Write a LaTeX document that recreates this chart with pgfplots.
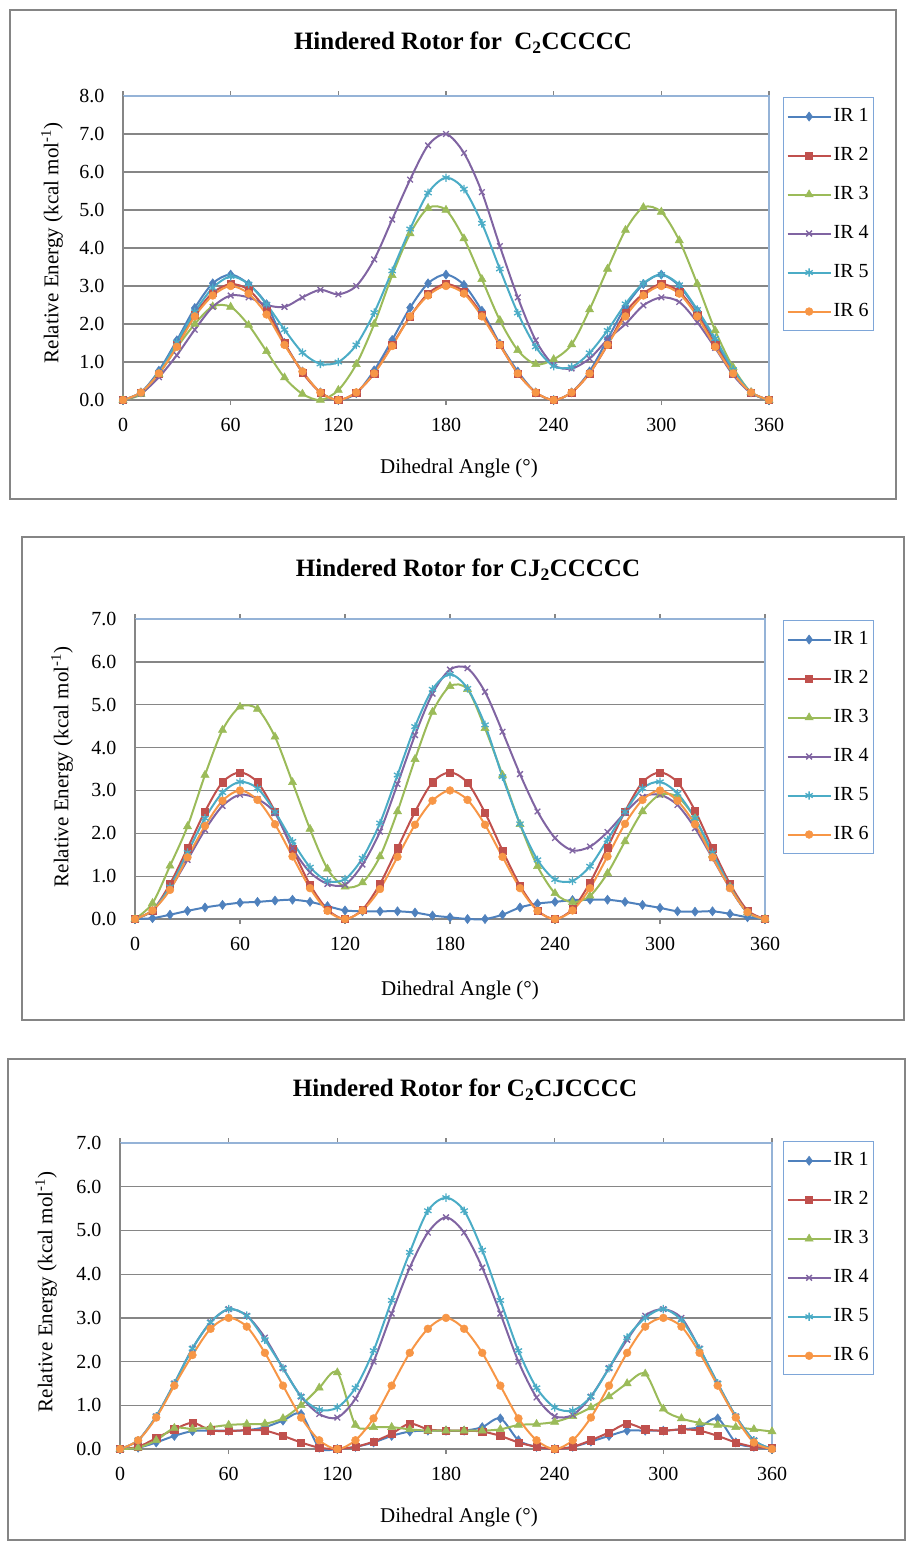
\documentclass[border=0pt]{standalone}
\usepackage{fontspec}
\setmainfont{Liberation Serif}
\usepackage{pgfplots}
\usepackage{pgfplotstable}
\pgfplotsset{compat=1.18}

\definecolor{c1}{HTML}{4F81BD}
\definecolor{c2}{HTML}{C0504D}
\definecolor{c3}{HTML}{9BBB59}
\definecolor{c4}{HTML}{8064A2}
\definecolor{c5}{HTML}{4BACC6}
\definecolor{c6}{HTML}{F79646}
\definecolor{gridc}{HTML}{868686}
\definecolor{frameblue}{HTML}{95B3D7}
\definecolor{legblue}{HTML}{7EA6D8}
\definecolor{outerc}{HTML}{858585}

\pgfplotstableread{
a r1 r2 r3 r4 r5 r6
0 0 0 0 0 0 0
10 0.20 0.20 0.15 0.17 0.20 0.20
20 0.77 0.70 0.68 0.60 0.72 0.70
30 1.57 1.45 1.38 1.18 1.52 1.40
40 2.42 2.25 2.00 1.85 2.32 2.20
50 3.07 2.82 2.46 2.45 2.95 2.75
60 3.30 3.05 2.45 2.75 3.25 3.00
70 3.05 2.90 1.97 2.70 3.05 2.80
80 2.52 2.35 1.28 2.50 2.52 2.25
90 1.50 1.50 0.59 2.45 1.85 1.45
100 0.75 0.72 0.16 2.70 1.25 0.75
110 0.20 0.20 0.00 2.90 0.95 0.20
120 0 0 0.26 2.78 1.00 0
130 0.18 0.20 0.94 3.00 1.45 0.20
140 0.78 0.70 2.00 3.70 2.30 0.70
150 1.58 1.45 3.28 4.75 3.40 1.42
160 2.43 2.20 4.38 5.80 4.50 2.20
170 3.07 2.80 5.05 6.70 5.45 2.75
180 3.30 3.05 5.00 7.00 5.85 3.00
190 3.03 2.85 4.25 6.50 5.55 2.80
200 2.35 2.25 3.18 5.47 4.65 2.20
210 1.48 1.45 2.10 4.05 3.45 1.45
220 0.75 0.70 1.31 2.70 2.29 0.70
230 0.20 0.20 0.94 1.57 1.40 0.20
240 0 0 1.07 0.92 0.89 0
250 0.20 0.20 1.46 0.83 0.87 0.20
260 0.75 0.70 2.38 1.09 1.24 0.70
270 1.60 1.45 3.45 1.59 1.83 1.45
280 2.45 2.30 4.47 2.00 2.53 2.20
290 3.05 2.80 5.07 2.49 3.07 2.75
300 3.30 3.05 4.95 2.70 3.30 3.00
310 3.00 2.85 4.20 2.58 3.03 2.80
320 2.35 2.25 3.06 2.05 2.38 2.20
330 1.55 1.45 1.83 1.37 1.62 1.40
340 0.75 0.70 0.86 0.66 0.80 0.70
350 0.20 0.20 0.20 0.18 0.20 0.20
360 0 0 0 0 0 0
}\tA

\pgfplotstableread{
a r1 r2 r3 r4 r5 r6
0 0 0 0 0 0 0
10 0.02 0.20 0.37 0.20 0.20 0.20
20 0.10 0.82 1.24 0.70 0.75 0.68
30 0.19 1.65 2.16 1.38 1.55 1.44
40 0.27 2.51 3.36 2.08 2.35 2.17
50 0.33 3.19 4.41 2.64 2.95 2.76
60 0.38 3.42 4.95 2.90 3.20 3.00
70 0.40 3.19 4.90 2.80 3.05 2.78
80 0.43 2.51 4.25 2.47 2.50 2.21
90 0.45 1.64 3.19 1.65 1.81 1.46
100 0.40 0.80 2.10 1.09 1.21 0.72
110 0.30 0.22 1.17 0.82 0.89 0.19
120 0.20 0 0.75 0.80 0.93 0
130 0.18 0.22 0.85 1.27 1.42 0.20
140 0.18 0.82 1.46 2.04 2.24 0.70
150 0.18 1.65 2.51 3.15 3.36 1.45
160 0.15 2.50 3.73 4.29 4.49 2.20
170 0.08 3.19 4.83 5.26 5.36 2.76
180 0.04 3.42 5.43 5.82 5.71 3.00
190 0.00 3.18 5.36 5.85 5.38 2.78
200 0.00 2.48 4.45 5.30 4.53 2.20
210 0.10 1.60 3.36 4.37 3.32 1.45
220 0.27 0.78 2.21 3.38 2.22 0.72
230 0.36 0.20 1.23 2.51 1.38 0.19
240 0.40 0 0.60 1.89 0.92 0
250 0.44 0.23 0.39 1.60 0.89 0.20
260 0.45 0.85 0.54 1.69 1.23 0.72
270 0.45 1.67 1.07 2.03 1.85 1.46
280 0.40 2.51 1.81 2.48 2.50 2.22
290 0.33 3.19 2.51 2.85 3.05 2.78
300 0.26 3.42 2.90 2.90 3.20 3.00
310 0.18 3.19 2.85 2.66 2.93 2.76
320 0.17 2.53 2.35 2.12 2.35 2.21
330 0.18 1.65 1.50 1.42 1.55 1.44
340 0.12 0.82 0.75 0.72 0.75 0.72
350 0.04 0.20 0.15 0.15 0.15 0.16
360 0 0 0 0 0 0
}\tB

\pgfplotstableread{
a r1 r2 r3 r4 r5 r6
0 0 0 0 0 0 0
10 0.03 0.05 0.03 0.20 0.20 0.20
20 0.15 0.25 0.20 0.75 0.75 0.72
30 0.30 0.45 0.48 1.50 1.50 1.45
40 0.41 0.60 0.46 2.30 2.30 2.15
50 0.42 0.43 0.50 2.90 2.90 2.75
60 0.42 0.41 0.55 3.20 3.20 3.00
70 0.43 0.43 0.57 3.05 3.05 2.80
80 0.50 0.42 0.58 2.55 2.50 2.20
90 0.65 0.30 0.70 1.85 1.85 1.45
100 0.80 0.15 1.00 1.20 1.20 0.72
110 0.03 0.03 1.40 0.80 0.90 0.20
120 0 0 1.75 0.72 0.95 0
130 0.05 0.05 0.55 1.15 1.40 0.20
140 0.15 0.17 0.50 2.00 2.25 0.70
150 0.30 0.35 0.50 3.10 3.40 1.45
160 0.40 0.58 0.45 4.15 4.50 2.20
170 0.42 0.45 0.42 4.95 5.45 2.75
180 0.42 0.42 0.42 5.30 5.75 3.00
190 0.42 0.42 0.42 4.95 5.45 2.75
200 0.50 0.40 0.42 4.15 4.55 2.20
210 0.70 0.30 0.45 3.10 3.40 1.45
220 0.20 0.15 0.55 2.00 2.25 0.70
230 0.05 0.05 0.57 1.18 1.40 0.20
240 0 0 0.62 0.75 0.95 0
250 0.05 0.05 0.75 0.78 0.88 0.20
260 0.17 0.20 0.95 1.20 1.20 0.72
270 0.30 0.38 1.20 1.85 1.85 1.45
280 0.42 0.58 1.50 2.50 2.55 2.20
290 0.42 0.45 1.72 3.05 3.00 2.80
300 0.42 0.42 0.92 3.20 3.20 3.00
310 0.45 0.45 0.70 3.00 2.95 2.80
320 0.50 0.42 0.60 2.30 2.30 2.20
330 0.70 0.30 0.55 1.50 1.50 1.45
340 0.15 0.15 0.50 0.75 0.75 0.72
350 0.05 0.05 0.45 0.20 0.20 0.15
360 0 0.02 0.40 0 0 0
}\tC

\pgfplotsset{
  hr/.style={
    scale only axis, clip=false,
    xmin=0, xmax=360, ymin=0,
    xtick={0,60,...,360},
    axis line style={draw=none},
    ymajorgrids, grid style={gridc, line width=1.3pt},
    tick align=outside,
    major tick length=5pt,
    xtick style={gridc, line width=1.3pt},
    ytick style={draw=none},
    ticklabel style={font=\fontsize{20}{20}\selectfont},
    /pgf/number format/assume math mode=true,
    yticklabel style={/pgf/number format/.cd, fixed, fixed zerofill, precision=1, /tikz/.cd, xshift=-10pt},
    xticklabel style={yshift=-10pt},
    legend cell align=left,
    legend style={draw=legblue, line width=1.2pt, fill=white,
      font=\fontsize{20}{20}\selectfont, anchor=north west,
      inner xsep=3pt, inner ysep=8pt, row sep=17pt,
      nodes={inner sep=2pt, text height=14pt, text depth=4pt}},
    legend image code/.code={\draw[mark repeat=2,mark phase=2] plot coordinates {(0pt,0pt)(21.5pt,0pt)(43pt,0pt)};},
    every axis plot/.append style={line width=2pt, smooth},
  },
  s1/.style={c1, mark=diamond*, mark size=4.6pt, mark options={solid, fill=c1, line width=0.5pt}},
  s2/.style={c2, mark=square*, mark size=3.6pt, mark options={solid, fill=c2, line width=0.5pt}},
  s3/.style={c3, mark=triangle*, mark size=4.7pt, mark options={solid, fill=c3, line width=0.5pt}},
  s4/.style={c4, mark=x, mark size=4pt, mark options={solid, line width=1.3pt}},
  s5/.style={c5, mark=asterisk, mark size=4.2pt, mark options={solid, line width=1.3pt}},
  s6/.style={c6, mark=*, mark size=3.9pt, mark options={solid, fill=c6, line width=0.5pt}},
}

\newcommand{\frames}{%
  \draw[frameblue, line width=1.3pt] (rel axis cs:0,1) -- (rel axis cs:1,1) -- (rel axis cs:1,0);
  \draw[gridc, line width=1.3pt] (rel axis cs:0,1) -- (rel axis cs:0,0) -- (rel axis cs:1,0);
}
\newcommand{\allplots}[1]{%
  \addplot[s1] table[x=a,y=r1] {#1};
  \addplot[s2] table[x=a,y=r2] {#1};
  \addplot[s3] table[x=a,y=r3] {#1};
  \addplot[s4] table[x=a,y=r4] {#1};
  \addplot[s5] table[x=a,y=r5] {#1};
  \addplot[s6] table[x=a,y=r6] {#1};
  \legend{IR 1,IR 2,IR 3,IR 4,IR 5,IR 6}
}

\begin{document}
\begin{tikzpicture}
\useasboundingbox (0,0) rectangle (906pt,-1542pt);
\tikzset{ttl/.style={font=\bfseries\fontsize{25}{25}\selectfont},
  lab/.style={font=\fontsize{21}{21}\selectfont}}

% ---------- panel 1 ----------
\draw[outerc, line width=2.5pt] (10pt,-10pt) rectangle (896pt,-499pt);
\node[ttl] at (463pt,-43pt) {Hindered Rotor for\ \ C\textsubscript{2}CCCCC};
\begin{axis}[hr, at={(123pt,-400pt)}, anchor=south west, width=646pt, height=304pt,
  ymax=8, ytick={0,1,...,8},
  legend style={at={(rel axis cs:1.0217,0.997)}}]
\frames
\allplots{\tA}
\end{axis}
\node[lab] at (459pt,-468pt) {Dihedral Angle (°)};
\node[lab, rotate=90] at (52pt,-243pt) {Relative Energy (kcal mol\textsuperscript{-1})};

% ---------- panel 2 ----------
\draw[outerc, line width=2.5pt] (22pt,-537pt) rectangle (904pt,-1020pt);
\node[ttl] at (468pt,-570pt) {Hindered Rotor for CJ\textsubscript{2}CCCCC};
\begin{axis}[hr, at={(135pt,-919pt)}, anchor=south west, width=630pt, height=300pt,
  ymax=7, ytick={0,1,...,7},
  legend style={at={(rel axis cs:1.0286,0.997)}}]
\frames
\allplots{\tB}
\end{axis}
\node[lab] at (460pt,-990pt) {Dihedral Angle (°)};
\node[lab, rotate=90] at (62pt,-767pt) {Relative Energy (kcal mol\textsuperscript{-1})};

% ---------- panel 3 ----------
\draw[outerc, line width=2.5pt] (8pt,-1059pt) rectangle (905pt,-1540pt);
\node[ttl] at (465pt,-1090pt) {Hindered Rotor for C\textsubscript{2}CJCCCC};
\begin{axis}[hr, at={(120pt,-1449pt)}, anchor=south west, width=652pt, height=306pt,
  ymax=7, ytick={0,1,...,7},
  legend style={at={(rel axis cs:1.0169,1.006)}}]
\frames
\allplots{\tC}
\end{axis}
\node[lab] at (459pt,-1517pt) {Dihedral Angle (°)};
\node[lab, rotate=90] at (46pt,-1292pt) {Relative Energy (kcal mol\textsuperscript{-1})};
\end{tikzpicture}
\end{document}
